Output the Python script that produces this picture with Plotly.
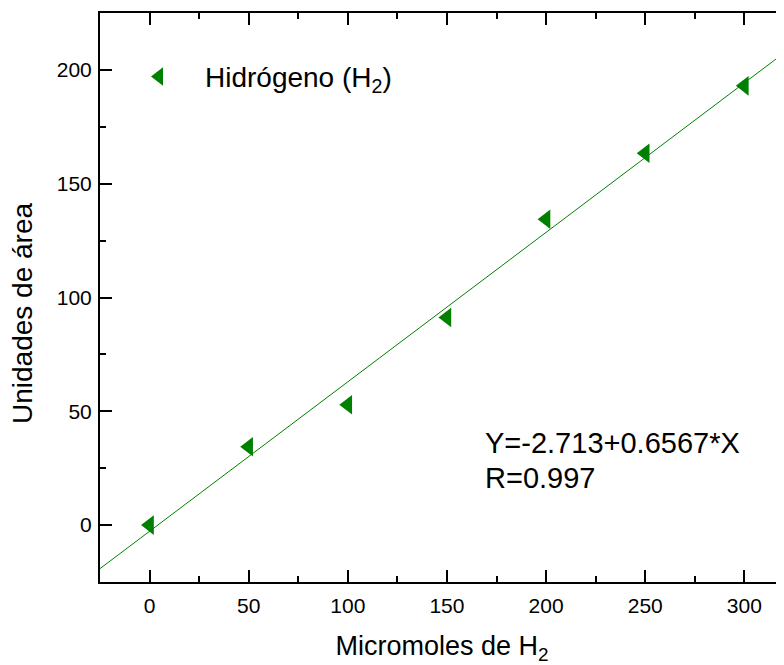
import plotly.graph_objects as go

micromoles = [0, 50, 100, 150, 200, 250, 300]
area_units = [0, 34.4, 52.9, 91.2, 134.4, 163.4, 193.0]

fit_intercept = -2.713
fit_slope = 0.6567
fit_x = [-25, 330]

GREEN = "#008000"
FONT = "Liberation Sans"

if __name__ == "__main__":
    fit_y = [fit_intercept + fit_slope * x for x in fit_x]

    fig = go.Figure()
    fig.add_trace(go.Scatter(
        x=fit_x, y=fit_y, mode="lines",
        line=dict(color=GREEN, width=1),
        showlegend=False, hoverinfo="skip",
    ))
    fig.add_trace(go.Scatter(
        x=micromoles, y=area_units, mode="markers",
        name="Hidrógeno (H<sub>2</sub>)",
        marker=dict(symbol="triangle-left", size=17, color=GREEN),
    ))

    # fit equation, one annotation per line
    fig.add_annotation(
        x=0.56, y=0.244, xref="paper", yref="paper",
        xanchor="left", yanchor="middle",
        text="Y=-2.713+0.6567*X",
        showarrow=False, font=dict(size=29, color="black", family=FONT),
    )
    fig.add_annotation(
        x=0.56, y=0.183, xref="paper", yref="paper",
        xanchor="left", yanchor="middle",
        text="R=0.997",
        showarrow=False, font=dict(size=29, color="black", family=FONT),
    )
    # y axis title
    fig.add_annotation(
        x=-0.114, y=0.471, xref="paper", yref="paper",
        xanchor="center", yanchor="middle", textangle=-90,
        text="Unidades de área",
        showarrow=False, font=dict(size=28, color="black", family=FONT),
    )

    fig.update_layout(
        width=776, height=657,
        margin=dict(l=92, r=0, t=5, b=83),
        plot_bgcolor="white", paper_bgcolor="white",
        font=dict(family=FONT, color="black", size=21),
        xaxis=dict(
            range=[-25, 320], dtick=50, mirror="ticks",
            title=dict(text="Micromoles de H<sub>2</sub>", font=dict(size=27, family=FONT), standoff=22),
        ),
        yaxis=dict(range=[-25, 225], dtick=50, mirror=False),
        legend=dict(
            x=0.019, y=0.932, xanchor="left", yanchor="top", itemwidth=82,
            bgcolor="rgba(0,0,0,0)", font=dict(size=28, family=FONT),
        ),
        showlegend=True,
    )

    fig.update_xaxes(
        showgrid=False, zeroline=False, automargin=False,
        showline=True, linecolor="black", linewidth=2,
        ticks="inside", ticklen=12, tickwidth=1.5, tickcolor="black",
        tickfont=dict(size=21, color="black", family=FONT), ticklabelstandoff=4,
        minor=dict(dtick=25, ticks="inside", ticklen=6, tickcolor="black", tickwidth=1.5),
    )
    fig.update_yaxes(
        showgrid=False, zeroline=False, automargin=False,
        showline=True, linecolor="black", linewidth=2,
        ticks="inside", ticklen=12, tickwidth=1.5, tickcolor="black",
        tickfont=dict(size=21, color="black", family=FONT), ticklabelstandoff=2,
        minor=dict(dtick=25, ticks="inside", ticklen=6, tickcolor="black", tickwidth=1.5),
    )

    fig.write_html("out.html")
